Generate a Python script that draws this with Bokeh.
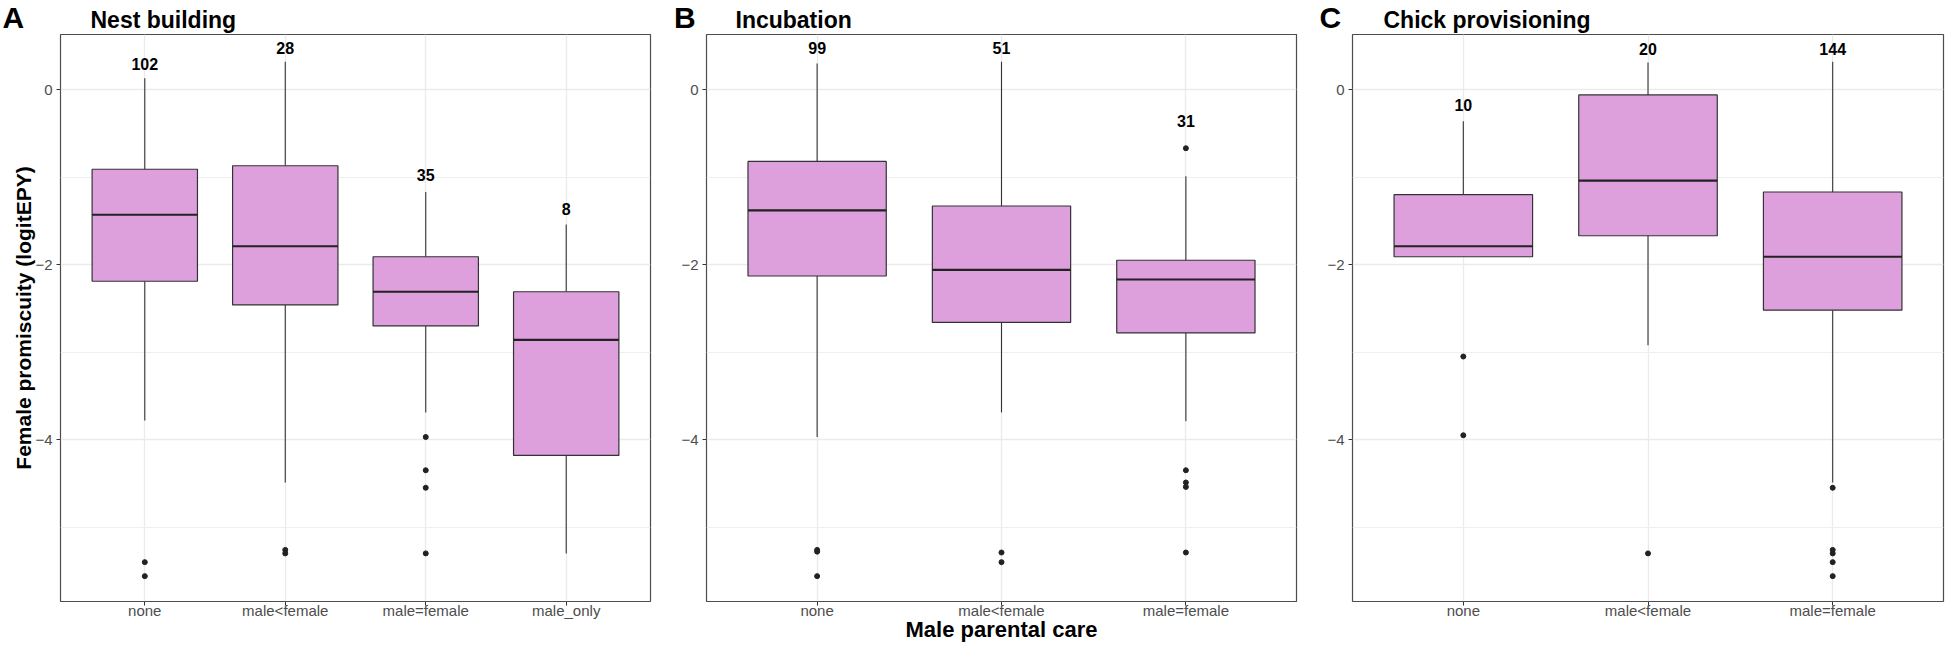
import math
from bokeh.plotting import figure
from bokeh.models import Range1d, FactorRange, FixedTicker, ColumnDataSource
from bokeh.layouts import row, column
from bokeh.embed import file_html
from bokeh.resources import INLINE
from bokeh.core.properties import value

# ---------------- data ----------------
y_label = "Female promiscuity (logitEPY)"
x_label = "Male parental care"
panel_letters = ["A", "B", "C"]

nest_title = "Nest building"
nest_cats = ["none", "male<female", "male=female", "male_only"]
nest_lower = [-3.78, -4.49, -3.69, -5.30]
nest_q1 = [-2.19, -2.46, -2.70, -4.18]
nest_med = [-1.43, -1.79, -2.31, -2.86]
nest_q3 = [-0.91, -0.87, -1.91, -2.31]
nest_upper = [0.13, 0.32, -1.17, -1.54]
nest_out = [[-5.40, -5.56], [-5.26, -5.30], [-3.97, -4.35, -4.55, -5.30], []]
nest_n = [102, 28, 35, 8]
nest_n_y = [0.29, 0.48, -0.97, -1.36]

inc_title = "Incubation"
inc_cats = ["none", "male<female", "male=female"]
inc_lower = [-3.97, -3.69, -3.79]
inc_q1 = [-2.13, -2.66, -2.78]
inc_med = [-1.38, -2.06, -2.17]
inc_q3 = [-0.82, -1.33, -1.95]
inc_upper = [0.30, 0.32, -0.99]
inc_out = [[-5.26, -5.28, -5.56], [-5.29, -5.40], [-0.67, -4.35, -4.49, -4.54, -5.29]]
inc_n = [99, 51, 31]
inc_n_y = [0.48, 0.48, -0.36]

chick_title = "Chick provisioning"
chick_cats = ["none", "male<female", "male=female"]
chick_lower = [-1.91, -2.92, -4.49]
chick_q1 = [-1.91, -1.67, -2.52]
chick_med = [-1.79, -1.04, -1.91]
chick_q3 = [-1.20, -0.06, -1.17]
chick_upper = [-0.36, 0.31, 0.32]
chick_out = [[-3.05, -3.95], [-5.30], [-4.55, -5.26, -5.30, -5.40, -5.56]]
chick_n = [10, 20, 144]
chick_n_y = [-0.17, 0.47, 0.47]

y_ticks = [-4, -2, 0]
y_minor = [-5, -3, -1]

# ---------------- style / layout ----------------
Y0, Y1 = -5.85, 0.63
TOTAL_W = 1946
HEADER_H = 34
FRAME_H = 567
BOTTOM = 45
FONT = "Liberation Sans"
FILL = "#DDA0DD"
LINE = "#333333"

# (frame width, left border, right border) for each panel
FRAMES = [(590, 60, 14), (590, 42, 14), (591, 42, 3)]
LETTER_DX = [-58, -32.5, -33]
TITLE_DX = [30, 29, 31]


def make_panel(cats, lower, q1, med, q3, upper, outs, n, n_y, fw, bl, br,
               show_ylabel=False, show_xlabel=False):
    pad = 0.1
    p = figure(x_range=FactorRange(factors=cats, range_padding=pad, range_padding_units="absolute"),
               y_range=Range1d(Y0, Y1), frame_width=fw, frame_height=FRAME_H,
               min_border_left=bl, min_border_right=br, min_border_top=0, min_border_bottom=BOTTOM,
               output_backend="svg", toolbar_location=None, title=None)
    p.background_fill_color = "white"
    p.border_fill_color = "white"
    p.outline_line_color = "#4d4d4d"
    p.outline_line_width = 1.2

    p.xgrid.grid_line_color = "#ebebeb"
    p.xgrid.grid_line_width = 1.3
    p.ygrid.grid_line_color = "#ebebeb"
    p.ygrid.grid_line_width = 1.3
    p.ygrid.minor_grid_line_color = "#efefef"
    p.ygrid.minor_grid_line_width = 1.0
    p.yaxis.ticker = FixedTicker(ticks=y_ticks, minor_ticks=y_minor)

    for ax in p.axis:
        ax.axis_line_color = None
        ax.major_tick_line_color = LINE
        ax.major_tick_out = 4
        ax.major_tick_in = 0
        ax.minor_tick_line_color = None
        ax.major_label_text_font = FONT
        ax.major_label_text_font_size = "15px"
        ax.major_label_text_color = "#4d4d4d"
    p.xaxis.major_label_standoff = -4
    p.yaxis.major_label_standoff = 4

    if show_ylabel:
        p.yaxis.axis_label = y_label
        p.yaxis.axis_label_text_font = FONT
        p.yaxis.axis_label_text_font_style = "bold"
        p.yaxis.axis_label_text_font_size = "21px"
        p.yaxis.axis_label_text_color = "black"
        p.yaxis.axis_label_standoff = -3
    if show_xlabel:
        p.xaxis.axis_label = x_label
        p.xaxis.axis_label_text_font = FONT
        p.xaxis.axis_label_text_font_style = "bold"
        p.xaxis.axis_label_text_font_size = "22px"
        p.xaxis.axis_label_text_color = "black"
        p.xaxis.axis_label_standoff = -5

    src = ColumnDataSource(dict(x=cats, lower=lower, q1=q1, med=med, q3=q3, upper=upper,
                                n=[str(v) for v in n], ny=n_y))
    p.segment(x0="x", y0="q3", x1="x", y1="upper", source=src, line_color=LINE, line_width=1.1)
    p.segment(x0="x", y0="q1", x1="x", y1="lower", source=src, line_color=LINE, line_width=1.1)
    p.vbar(x="x", top="q3", bottom="q1", width=0.75, source=src,
           fill_color=FILL, line_color=LINE, line_width=1.2)
    p.vbar(x="x", top="med", bottom="med", width=0.75, source=src,
           fill_color=None, line_color="#222222", line_width=2.2)

    ox = [c for c, vals in zip(cats, outs) for _ in vals]
    oy = [v for vals in outs for v in vals]
    p.scatter(x=ox, y=oy, size=5, fill_color="#222222", line_color="#222222")

    p.text(x="x", y="ny", text="n", source=src, text_align="center", text_baseline="middle",
           text_font=value(FONT), text_font_style="bold", text_font_size="16px", text_color="black")
    return p


pa = make_panel(nest_cats, nest_lower, nest_q1, nest_med, nest_q3, nest_upper,
                nest_out, nest_n, nest_n_y, *FRAMES[0], show_ylabel=True)
pb = make_panel(inc_cats, inc_lower, inc_q1, inc_med, inc_q3, inc_upper,
                inc_out, inc_n, inc_n_y, *FRAMES[1], show_xlabel=True)
pc = make_panel(chick_cats, chick_lower, chick_q1, chick_med, chick_q3, chick_upper,
                chick_out, chick_n, chick_n_y, *FRAMES[2])

# header strip with panel letters and panel titles
frame_lefts = []
acc = 0
for fw, bl, br in FRAMES:
    frame_lefts.append(acc + bl)
    acc += bl + fw + br

header = figure(width=TOTAL_W, height=HEADER_H, x_range=Range1d(0, TOTAL_W),
                y_range=Range1d(0, HEADER_H), min_border=0, min_border_left=0,
                min_border_right=0, min_border_top=0, min_border_bottom=0,
                x_axis_type=None, y_axis_type=None, output_backend="svg",
                toolbar_location=None, title=None)
header.outline_line_color = None
header.background_fill_color = "white"
header.border_fill_color = "white"
header.xgrid.visible = False
header.ygrid.visible = False

titles = [nest_title, inc_title, chick_title]
# y measured upward from the bottom of the header strip (text vertical centre)
header.text(x=[fl + dx for fl, dx in zip(frame_lefts, LETTER_DX)], y=[HEADER_H / 2] * 3,
            text=panel_letters, text_align="left", text_baseline="middle", text_font=value(FONT),
            text_font_style="bold", text_font_size="30px", text_color="black")
header.text(x=[fl + dx for fl, dx in zip(frame_lefts, TITLE_DX)], y=[HEADER_H - 19.3] * 3,
            text=titles, text_align="left", text_baseline="middle", text_font=value(FONT),
            text_font_style="bold", text_font_size="23px", text_color="black")

layout = column(header, row(pa, pb, pc))
open("out.html", "w").write(file_html(layout, INLINE))
